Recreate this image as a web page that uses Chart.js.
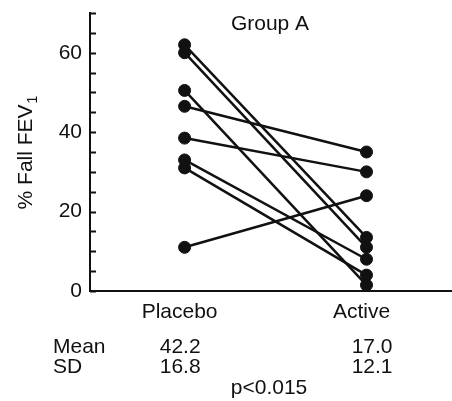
<!DOCTYPE html>
<html>
<head>
<meta charset="utf-8">
<script src="https://cdn.jsdelivr.net/npm/chart.js@4.4.1/dist/chart.umd.min.js"></script>
<style>
    html, body { margin: 0; padding: 0; background: #fff; overflow: hidden; }
    #wrap { width: 452px; height: 401px; position: relative; }
    #fev-chart { display: block; }
</style>
</head>
<body>
<div id="wrap"><canvas id="fev-chart"></canvas></div>
<script>
// Data Group A
const categories = ['Placebo', 'Active'];
const placeboValues = [62, 60, 50.5, 46.5, 38.5, 33, 31, 11];
const activeValues = [13.5, 11, 1.5, 35, 30, 8, 4, 24];
const yTickLabels = [0, 20, 40, 60];
const statLabels = ['Mean', 'SD'];
const meanValues = ['42.2', '17.0'];
const sdValues = ['16.8', '12.1'];
const titleText = 'Group A';
const pText = 'p<0.015';

const ink = '#111111';
const fontFamily = '"Liberation Sans", Arial, Helvetica, sans-serif';

// satu garis per subjek
const datasets = placeboValues.map((p, i) => ({
    data: [{ x: 0, y: p }, { x: 1, y: activeValues[i] }],
    borderColor: ink,
    borderWidth: 2.5,
    backgroundColor: ink,
    pointBackgroundColor: ink,
    pointBorderColor: ink,
    pointRadius: 6,
    pointBorderWidth: 1,
    showLine: true,
    clip: false
}));

// minor ticks ke dalam, judul, label sumbu y, statistik
const extrasPlugin = {
    id: 'extras',
    afterDraw(chart) {
        const ctx = chart.ctx;
        const xs = chart.scales.x;
        const ys = chart.scales.y;
        const area = chart.chartArea;
        ctx.save();
        ctx.strokeStyle = ink;
        ctx.lineWidth = 2;
        for (let v = 0; v <= 70; v += 5) {
            const py = Math.round(ys.getPixelForValue(v)) + 0.5;
            ctx.beginPath();
            ctx.moveTo(area.left, py);
            ctx.lineTo(area.left + 6, py);
            ctx.stroke();
        }

        ctx.fillStyle = ink;
        ctx.font = '21px ' + fontFamily;
        ctx.textAlign = 'center';
        ctx.textBaseline = 'middle';
        ctx.fillText(titleText, 270, 24);

        // label sumbu y dengan subscript
        ctx.save();
        ctx.translate(26, 153);
        ctx.rotate(-Math.PI / 2);
        const main = '% Fall FEV';
        ctx.font = '21px ' + fontFamily;
        const wMain = ctx.measureText(main).width;
        ctx.font = '14px ' + fontFamily;
        const wSub = ctx.measureText('1').width;
        const start = -(wMain + wSub) / 2;
        ctx.textAlign = 'left';
        ctx.textBaseline = 'middle';
        ctx.font = '21px ' + fontFamily;
        ctx.fillText(main, start, 0);
        ctx.font = '14px ' + fontFamily;
        ctx.fillText('1', start + wMain + 1, 7);
        ctx.restore();

        // tabel Mean / SD
        ctx.font = '21px ' + fontFamily;
        ctx.textBaseline = 'alphabetic';
        ctx.textAlign = 'left';
        ctx.fillText(statLabels[0], 53, 353);
        ctx.fillText(statLabels[1], 53, 373);
        ctx.textAlign = 'right';
        const rightEdges = [xs.getPixelForValue(0) + 16, xs.getPixelForValue(1) + 26];
        rightEdges.forEach((rx, i) => {
            ctx.fillText(meanValues[i], rx, 353);
            ctx.fillText(sdValues[i], rx, 373);
        });
        ctx.textAlign = 'center';
        ctx.fillText(pText, 269, 394);
        ctx.restore();
    }
};

function initializeChart() {
    new Chart(document.getElementById('fev-chart'), {
        type: 'scatter',
        data: { datasets: datasets },
        options: {
            responsive: true,
            maintainAspectRatio: false,
            animation: false,
            events: [],
            layout: {
                autoPadding: false,
                padding: { top: 13, right: 0, bottom: 0, left: 0 }
            },
            plugins: {
                legend: { display: false },
                tooltip: { enabled: false }
            },
            scales: {
                x: {
                    type: 'linear',
                    min: -0.52,
                    max: 1.47,
                    afterBuildTicks: s => { s.ticks = categories.map((c, i) => ({ value: i })); },
                    afterFit: s => {
                        s.height = 110;
                        s.paddingLeft = 0;
                        s.paddingRight = 0;
                    },
                    grid: { display: false, drawTicks: false },
                    border: { color: ink, width: 2 },
                    ticks: {
                        callback: v => categories[v],
                        color: ink,
                        font: { family: fontFamily, size: 21 },
                        padding: 9,
                        labelOffset: -5,
                        maxRotation: 0
                    }
                },
                y: {
                    min: 0,
                    max: 70,
                    afterBuildTicks: s => { s.ticks = yTickLabels.map(v => ({ value: v })); },
                    afterFit: s => {
                        s.width = 90;
                        s.paddingTop = 0;
                        s.paddingBottom = 0;
                    },
                    grid: { display: false, drawTicks: false },
                    border: { color: ink, width: 2 },
                    ticks: {
                        color: ink,
                        font: { family: fontFamily, size: 21 },
                        padding: 8
                    }
                }
            }
        },
        plugins: [extrasPlugin]
    });
}

window.addEventListener('load', initializeChart);
</script>
</body>
</html>
